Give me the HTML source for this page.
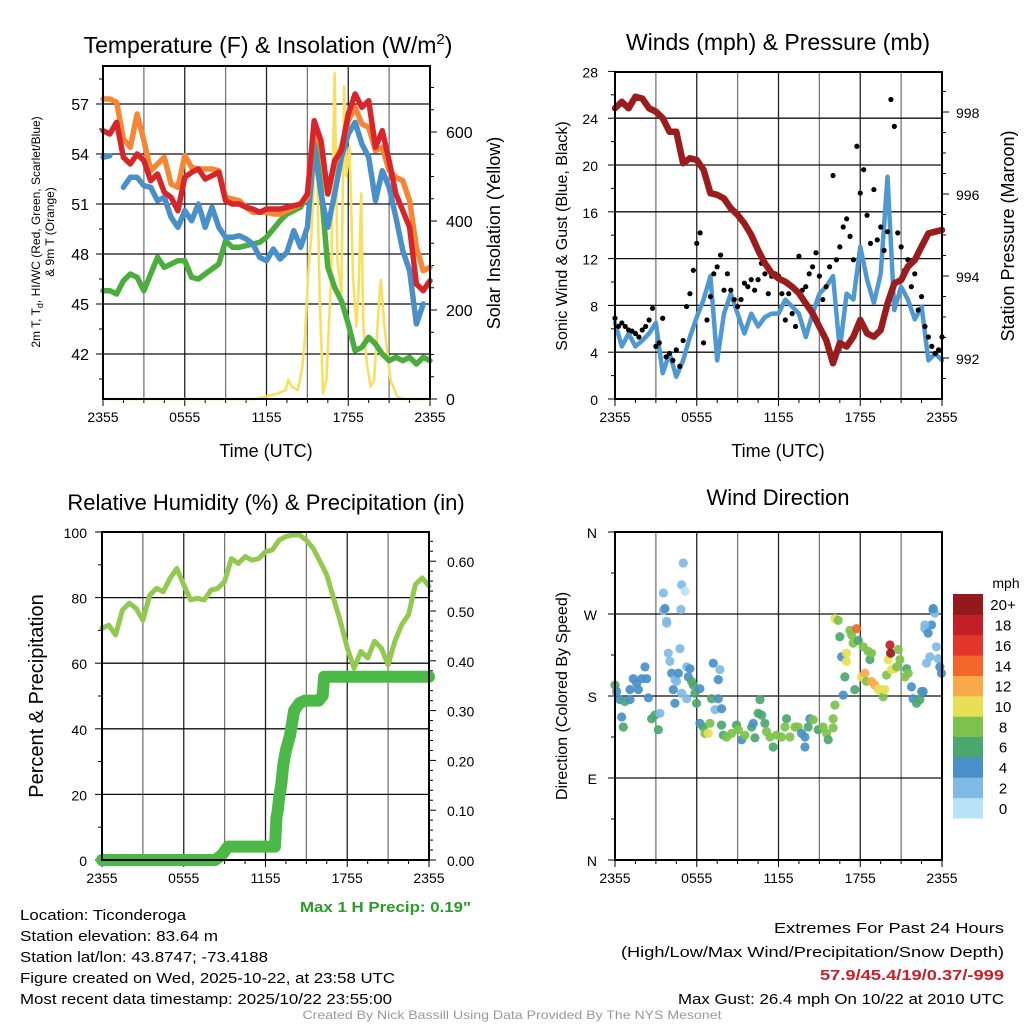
<!DOCTYPE html>
<html><head><meta charset="utf-8"><style>
html,body{margin:0;padding:0;background:#fff}
svg{display:block;font-family:"Liberation Sans",Arial,sans-serif}
</style></head><body>
<svg id="fig" width="1024" height="1024" viewBox="0 0 1024 1024" xmlns="http://www.w3.org/2000/svg">
<rect x="0" y="0" width="1024" height="1024" fill="#fff"/>
<g id="p1"></g>
<g id="p2"></g>
<g id="p3"></g>
<g id="p4"></g>
<g id="txt">
<text x="268" y="53" font-size="23" text-anchor="middle">Temperature (F) &amp; Insolation (W/m<tspan dy="-9" font-size="15">2</tspan><tspan dy="9">)</tspan></text>
<text x="778" y="50" font-size="23" text-anchor="middle">Winds (mph) &amp; Pressure (mb)</text>
<text x="266" y="510" font-size="22" text-anchor="middle">Relative Humidity (%) &amp; Precipitation (in)</text>
<text x="778" y="505" font-size="22" text-anchor="middle">Wind Direction</text>
<text x="266" y="457" font-size="18" text-anchor="middle">Time (UTC)</text>
<text x="778" y="457" font-size="18" text-anchor="middle">Time (UTC)</text>
<text transform="translate(40,232) rotate(-90)" font-size="12" text-anchor="middle">2m T, T<tspan dy="3" font-size="9">d</tspan><tspan dy="-3">, HI/WC (Red, Green, Scarlet/Blue)</tspan></text>
<text transform="translate(54,232) rotate(-90)" font-size="12" text-anchor="middle">&amp; 9m T (Orange)</text>
<text transform="translate(500,233) rotate(-90)" font-size="18" text-anchor="middle">Solar Insolation (Yellow)</text>
<text transform="translate(567,236) rotate(-90)" font-size="16" text-anchor="middle">Sonic Wind &amp; Gust (Blue, Black)</text>
<text transform="translate(1014,236) rotate(-90)" font-size="18" text-anchor="middle">Station Pressure (Maroon)</text>
<text transform="translate(43,696) rotate(-90)" font-size="20" text-anchor="middle">Percent &amp; Precipitation</text>
<text transform="translate(567,696) rotate(-90)" font-size="16" text-anchor="middle">Direction (Colored By Speed)</text>
<text x="471" y="912" font-size="15" font-weight="bold" fill="#2a9a2a" text-anchor="end" textLength="171" lengthAdjust="spacingAndGlyphs">Max 1 H Precip: 0.19"</text>
<text x="20" y="920" font-size="15" textLength="166" lengthAdjust="spacingAndGlyphs">Location: Ticonderoga</text>
<text x="20" y="941" font-size="15" textLength="198" lengthAdjust="spacingAndGlyphs">Station elevation: 83.64 m</text>
<text x="20" y="962" font-size="15" textLength="248" lengthAdjust="spacingAndGlyphs">Station lat/lon: 43.8747; -73.4188</text>
<text x="20" y="983" font-size="15" textLength="375" lengthAdjust="spacingAndGlyphs">Figure created on Wed, 2025-10-22, at 23:58 UTC</text>
<text x="20" y="1004" font-size="15" textLength="372" lengthAdjust="spacingAndGlyphs">Most recent data timestamp: 2025/10/22 23:55:00</text>
<text x="1004" y="933" font-size="15" text-anchor="end" textLength="230" lengthAdjust="spacingAndGlyphs">Extremes For Past 24 Hours</text>
<text x="1004" y="957" font-size="15" text-anchor="end" textLength="383" lengthAdjust="spacingAndGlyphs">(High/Low/Max Wind/Precipitation/Snow Depth)</text>
<text x="1004" y="980" font-size="15" font-weight="bold" fill="#c8202a" text-anchor="end" textLength="184" lengthAdjust="spacingAndGlyphs">57.9/45.4/19/0.37/-999</text>
<text x="1004" y="1004" font-size="15" text-anchor="end" textLength="326" lengthAdjust="spacingAndGlyphs">Max Gust: 26.4 mph On 10/22 at 2010 UTC</text>
<text x="512" y="1019" font-size="12" fill="#999" text-anchor="middle" textLength="419" lengthAdjust="spacingAndGlyphs">Created By Nick Bassill Using Data Provided By The NYS Mesonet</text>
</g>
</svg>
<script>
// ---- data (half-hourly from 2355 UTC, 49 values) ----
const tempRed=[55.4,55.2,55.9,53.8,53.4,54.0,53.6,52.4,52.8,51.7,51.4,50.6,52.6,52.9,53.1,52.5,52.7,52.9,51.2,51.0,51.0,50.8,50.7,50.5,50.7,50.7,50.7,50.8,50.9,51.0,51.6,56.0,54.8,51.6,53.6,54.2,56.4,57.6,56.8,57.2,54.4,55.4,53.6,51.6,50.6,49.6,46.2,45.8,46.4];
const tempOrange=[57.3,57.3,57.1,54.9,54.4,56.4,54.8,53.0,53.4,53.8,52.2,52.0,53.9,53.2,53.1,53.1,53.1,53.0,51.4,51.3,51.2,50.8,50.5,50.5,50.5,50.4,50.4,50.6,50.8,51.0,51.4,55.6,54.4,51.6,53.4,54.4,56.0,56.8,55.8,55.6,54.2,54.4,53.0,52.6,52.4,51.2,48.4,47.0,47.2];
const tempBlue=[53.8,53.9,null,52.0,52.6,52.6,52.1,52.0,51.2,51.4,50.2,49.6,50.6,50.0,51.0,49.6,50.8,49.6,49.0,49.0,49.1,48.9,48.6,47.8,47.6,48.3,47.7,48.1,49.4,48.4,49.6,54.5,51.6,49.6,51.6,53.8,55.2,55.9,54.6,53.8,51.2,53.0,52.0,50.2,48.2,47.0,43.8,45.0,null];
const tempGreen=[45.8,45.8,45.6,46.4,46.8,46.6,45.8,46.8,47.8,47.2,47.4,47.6,47.6,46.6,46.5,46.8,47.1,47.4,48.8,48.4,48.4,48.5,48.6,48.7,49.0,49.5,50.0,50.4,50.6,50.8,51.6,55.0,52.0,47.2,46.0,45.2,43.8,42.2,42.4,43.0,42.6,42.0,41.6,41.8,41.6,41.8,41.4,41.8,41.6];
const solarHours=[0,11.2,11.9,12.9,13.4,13.6,13.85,14.3,14.6,14.8,15.05,15.3,15.66,15.9,16.15,16.4,16.75,16.9,17.0,17.2,17.5,17.7,17.85,18.1,18.35,18.6,18.75,18.95,19.1,19.4,19.65,19.9,20.3,20.4,20.65,21.1,21.6,22.1,24];
const solarValues=[0,0,5,13,20,43,28,20,65,125,275,372,619,237,13,43,275,575,732,312,237,702,500,567,275,163,237,462,163,73,28,43,237,267,163,43,5,0,0];
const windSpeed=[6.5,4.5,5.6,4.5,5.0,5.6,6.5,2.2,3.9,1.9,3.3,5.3,7.0,8.5,10.5,3.3,7.3,9.0,7.3,5.6,7.3,6.2,7.0,7.3,7.3,8.5,7.9,7.3,5.3,7.3,9.0,9.6,10.5,4.2,9.0,8.5,13.0,10.2,8.2,10.7,19.0,7.6,9.6,8.5,6.8,7.9,3.3,3.9,3.3];
const pressure=[998.09,998.25,998.09,998.37,998.33,998.09,998.01,997.85,997.52,997.52,996.75,996.87,996.83,996.59,996.02,995.98,995.89,995.65,995.49,995.28,995.00,994.63,994.31,994.07,993.94,993.86,993.74,993.58,993.33,993.09,992.76,992.44,991.87,992.36,992.28,992.52,992.93,992.60,992.52,992.68,993.33,993.82,993.90,994.23,994.39,994.72,995.04,995.08,995.12];
// gusts every 15 min (97 values)
const gustSpeed=[6.9,6.2,6.5,6.2,5.9,5.8,5.6,5.3,5.9,6.2,6.75,7.75,4.5,4.8,6.9,3.6,3.9,3.3,4.2,2.8,5.0,7.9,9.0,11.0,13.3,14.2,4.8,6.75,8.75,10.7,11.3,12.3,9.3,10.7,9.3,8.5,7.9,8.5,9.9,9.6,10.2,9.3,10.2,11.6,10.7,9.0,10.5,10.7,10.5,9.0,6.75,9.0,7.3,6.2,12.2,9.3,9.6,10.7,11.3,12.5,10.5,8.5,9.6,11.3,19.1,11.9,13.0,14.7,15.4,13.9,11.9,21.6,17.6,19.6,15.7,13.3,17.9,13.6,14.7,12.7,14.3,25.6,23.3,14.2,13.0,11.0,11.9,9.6,10.7,7.6,8.75,6.2,5.3,4.5,3.9,4.2,5.3];
const relHumidity=[70.6,71.6,68.6,76.2,78.3,76.7,73.1,80.7,82.8,81.8,85.9,88.9,83.8,79.3,79.8,79.3,82.3,82.8,84.9,91.9,90.4,92.5,91.4,91.9,94.0,94.5,97.5,98.6,99.1,99.1,97.5,95.0,91.0,86.9,79.8,72.7,64.6,58.5,63.6,61.6,66.7,64.6,59.5,66.7,71.8,74.8,84.0,86.0,83.5];
const precipHours=[0,8.3,8.8,9.25,12.7,12.8,12.9,13.0,13.15,13.3,13.5,13.8,14.1,14.5,14.9,15.9,16.2,16.3,24];
const precipValues=[0,0,0.01,0.027,0.027,0.084,0.10,0.125,0.15,0.19,0.22,0.25,0.30,0.315,0.32,0.32,0.33,0.368,0.368];
const dirHours=[0,0.12,0.37,0.61,0.49,0.73,1.10,1.10,1.34,1.59,1.71,1.96,2.20,2.32,2.45,2.69,2.93,3.18,3.30,3.55,3.79,3.91,4.03,4.16,4.28,4.40,4.40,4.52,4.77,4.65,4.89,5.26,5.26,5.38,5.50,5.62,5.75,5.87,5.99,6.23,6.23,6.48,6.60,6.85,6.97,7.09,7.21,7.34,7.58,7.58,7.70,7.82,7.82,7.95,8.19,8.56,8.92,9.05,9.29,9.54,10.03,10.15,10.27,10.51,10.64,10.76,11.00,11.12,11.37,11.61,11.86,12.22,12.59,12.47,12.84,13.20,13.45,13.69,13.94,13.94,14.18,14.30,14.55,14.91,15.28,15.53,15.65,16.01,16.01,16.14,16.14,16.38,16.50,16.63,16.75,16.87,16.99,16.99,17.24,17.36,17.48,17.60,17.73,17.85,18.09,18.22,18.34,18.46,18.58,18.71,18.83,18.83,19.07,19.32,19.56,19.68,19.81,19.93,20.05,20.18,20.23,20.30,20.54,20.67,20.79,20.91,21.28,21.40,21.52,21.76,21.88,22.13,22.37,22.50,22.62,22.74,22.86,22.98,23.11,23.23,23.35,23.47,23.59,23.72,23.84,23.96,3.55,3.67,3.79,4.89,5.01,5.14,4.84,23.35,22.74];
const dirDegrees=[192,185,176,146,157,174,187,176,199,194,187,199,212,199,178,155,159,143,161,274,260,227,218,205,187,172,198,196,232,205,183,177,212,201,210,196,192,183,172,188,150,146,139,139,150,177,216,165,198,177,209,166,148,137,135,139,148,143,132,137,146,150,134,161,176,159,150,141,135,124,137,135,155,146,135,146,146,139,124,135,146,155,154,143,146,139,132,145,155,170,265,263,245,223,181,201,227,218,252,247,238,187,254,241,201,234,205,196,229,220,227,196,192,187,187,179,187,203,220,236,227,209,210,212,231,220,201,210,205,190,177,172,176,185,185,254,216,249,223,258,274,271,234,221,212,205,293,276,262,302,326,295,275,276,258];
const dirSpeed=[6,4,4,6,4,6,4,4,4,4,4,4,4,4,4,6,6,6,2,2,2,2,2,4,4,4,2,2,2,4,2,2,2,4,4,6,6,6,6,4,4,6,8,10,8,6,4,2,4,4,2,4,6,6,8,8,6,8,4,8,6,4,6,6,6,6,6,8,8,6,8,8,6,8,8,8,8,4,4,4,6,4,8,6,8,8,6,8,8,8,10,8,6,4,4,6,10,10,8,8,8,6,14,6,10,8,12,8,8,6,8,12,12,10,10,8,10,8,10,18,20,10,10,8,8,8,8,6,8,4,4,6,6,6,4,2,2,4,2,4,4,2,2,2,4,4,2,4,2,2,2,0,2,4,2];
const speedClasses=[0,2,4,6,8,10,12,14,16,18,20];
const speedLabels=["0","2","4","6","8","10","12","14","16","18","20+"];
const speedColors=["#b9e2f7","#7fbbe6","#4a90c8","#4aa86f","#7dc24c","#e7e056","#f8a94a","#f26629","#e2362b","#c21f26","#95181c"];
const timeTickLabels=["2355","0555","1155","1755","2355"];

const NS="http://www.w3.org/2000/svg";
function mk(parent,tag,attrs){const e=document.createElementNS(NS,tag);for(const k in attrs)e.setAttribute(k,attrs[k]);parent.appendChild(e);return e;}

function frame(g,L,R,T,B){
  // vertical grid every 3 h
  for(let h=3;h<24;h+=3){const x=L+h*(R-L)/24;
    const ln=mk(g,'line',{x1:x,x2:x,y1:T,y2:B,stroke:h%6===0?'#222':'#777','stroke-width':1.3});
    
    }
  // x ticks
  for(let h=0;h<=24;h+=1.5){const x=L+h*(R-L)/24;const maj=h%6===0;
    const t=mk(g,'line',{x1:x,x2:x,y1:B,y2:B+(maj?7:4),stroke:'#000','stroke-width':1});
    
    }
  timeTickLabels.forEach((s,i)=>{const x=L+i*6*(R-L)/24;
    const t=mk(g,'text',{x:x,y:B+23,'font-size':14,'text-anchor':'middle'});t.textContent=s;
    
    });
}
function hline(g,L,R,y){const l=mk(g,'line',{x1:L,x2:R,y1:y,y2:y,stroke:'#111','stroke-width':1.3});
  
  }
function box(g,L,R,T,B){const r=mk(g,'rect',{x:L,y:T,width:R-L,height:B-T,fill:'none',stroke:'#000','stroke-width':2});
  
  }
function ytick(g,x,y,len,lab,anchorX,anchor,fs){
  const t=mk(g,'line',{x1:x,x2:x+len,y1:y,y2:y,stroke:'#000','stroke-width':1});
  
  
  if(lab!==null){const tx=mk(g,'text',{x:anchorX,y:y+6,'font-size':fs,'text-anchor':anchor});tx.textContent=lab;
    
    }
}
function path(g,xs,ys,attrs,name){let d='',pen=false;
  for(let i=0;i<xs.length;i++){if(ys[i]===null||isNaN(ys[i])){pen=false;continue;}d+=(pen?'L':'M')+xs[i].toFixed(1)+','+ys[i].toFixed(1);pen=true;}
  const p=mk(g,'path',Object.assign({d:d,fill:'none','stroke-linejoin':'round','stroke-linecap':'round'},attrs));
  
  return p;}

// ---------- Panel 1 ----------
(function(){const g=document.getElementById('p1');const L=103,R=430,T=66,B=399;
  const X=h=>L+h*(R-L)/24, Y=v=>354-(v-42)*50/3, YS=w=>399-w*89/200;
  frame(g,L,R,T,B);
  [42,45,48,51,54,57].forEach(v=>hline(g,L,R,Y(v)));
  for(let v=40.5;v<=58.5;v+=1.5){const maj=v%3===0;ytick(g,L,Y(v),maj?-7:-4,maj?String(v):null,89,'end',16);}
  for(let w=0;w<=700;w+=50){const maj=w%200===0;ytick(g,R,YS(w),maj?7:4,maj?String(w):null,446,'start',16);}
  const hh=tempRed.map((_,i)=>i*0.5);
  path(g,solarHours.map(X),solarValues.map(YS),{stroke:'#f7e060','stroke-width':2.6},'solar-insolation-line');
  path(g,hh.map(X),tempGreen.map(v=>v===null?null:Y(v)),{stroke:'#4cad3f','stroke-width':5.5},'dewpoint-line');
  path(g,hh.map(X),tempBlue.map(v=>v===null?null:Y(v)),{stroke:'#4a90c8','stroke-width':5.5},'heat-index-line');
  path(g,hh.map(X),tempOrange.map(v=>v===null?null:Y(v)),{stroke:'#f58634','stroke-width':5.5},'temp-9m-line');
  path(g,hh.map(X),tempRed.map(v=>v===null?null:Y(v)),{stroke:'#d7262b','stroke-width':5.5},'temp-2m-line');
  box(g,L,R,T,B);
})();

// ---------- Panel 2 ----------
(function(){const g=document.getElementById('p2');const L=615,R=942,T=72,B=399;
  const X=h=>L+h*(R-L)/24, Y=v=>399-v*46.8/4, YP=p=>358-(p-992)*41;
  frame(g,L,R,T,B);
  [4,8,12,16,20,24].forEach(v=>hline(g,L,R,Y(v)));
  for(let v=0;v<=28;v+=2){const maj=v%4===0;ytick(g,L,Y(v),maj?-7:-4,maj?String(v):null,598,'end',14);}
  for(let p=991.5;p<=998.9;p+=0.5){const maj=Math.abs(p%2)<0.01;ytick(g,R,YP(p),maj?7:4,maj?String(p):null,956,'start',14);}
  const hh=windSpeed.map((_,i)=>i*0.5);
  path(g,hh.map(X),windSpeed.map(Y),{stroke:'#4f98d2','stroke-width':4.5},'wind-speed-line');
  gustSpeed.forEach((v,i)=>{const c=mk(g,'circle',{cx:X(i*0.25),cy:Y(v),r:2.6,fill:'#000'});
    
    });
  path(g,hh.map(X),pressure.map(YP),{stroke:'#9b1c1c','stroke-width':6.5},'pressure-line');
  box(g,L,R,T,B);
})();

// ---------- Panel 3 ----------
(function(){const g=document.getElementById('p3');const L=102,R=429,T=532,B=860;
  const X=h=>L+h*(R-L)/24, Y=v=>860-v*3.28, YP=p=>860-p*498;
  frame(g,L,R,T,B);
  [20,40,60,80].forEach(v=>hline(g,L,R,Y(v)));
  for(let v=0;v<=100;v+=10){const maj=v%20===0;ytick(g,L,Y(v),maj?-7:-4,maj?String(v):null,87,'end',14);}
  for(let k=0;k<=32;k++){const p=k*0.02;const maj=k%5===0;if(YP(p)<T-1)break;ytick(g,R,YP(p),maj?7:4,maj?p.toFixed(2):null,447,'start',14);}
  const hh=relHumidity.map((_,i)=>i*0.5);
  path(g,hh.map(X),relHumidity.map(Y),{stroke:'#92c94e','stroke-width':5},'humidity-line');
  path(g,precipHours.map(X),precipValues.map(YP),{stroke:'#4cb848','stroke-width':12},'precipitation-line');
  box(g,L,R,T,B);
})();

// ---------- Panel 4 ----------
(function(){const g=document.getElementById('p4');const L=615,R=942,T=532,B=860;
  const X=h=>L+h*(R-L)/24, Y=d=>860-d*328/360;
  frame(g,L,R,T,B);
  const dl=["N","E","S","W","N"];
  [90,180,270].forEach(d=>hline(g,L,R,Y(d)));
  for(let d=0;d<=360;d+=45){const maj=d%90===0;ytick(g,L,Y(d),maj?-7:-4,maj?dl[d/90]:null,597,'end',14);}
  dirHours.forEach((h,i)=>{const s=dirSpeed[i];let k=speedClasses.findIndex(c=>s<c+1);if(k<0)k=10;
    const c=mk(g,'circle',{cx:X(h),cy:Y(dirDegrees[i]),r:4.6,fill:speedColors[k],opacity:0.92});
    
    });
  box(g,L,R,T,B);
  // colorbar
  const cb=mk(g,'g',{});
  
  
  const h=(818-594)/11;
  speedColors.forEach((col,i)=>{const y=818-(i+1)*h;
    const r=mk(cb,'rect',{x:953,y:y,width:30,height:h+0.5,fill:col});
    
    
    const t=mk(cb,'text',{x:1003,y:y+h/2+6,'font-size':15,'text-anchor':'middle'});t.textContent=speedLabels[i];
    
    });
  const mt=mk(cb,'text',{x:1006,y:588,'font-size':14,'text-anchor':'middle'});mt.textContent='mph';
  
  
})();
</script>
</body></html>
